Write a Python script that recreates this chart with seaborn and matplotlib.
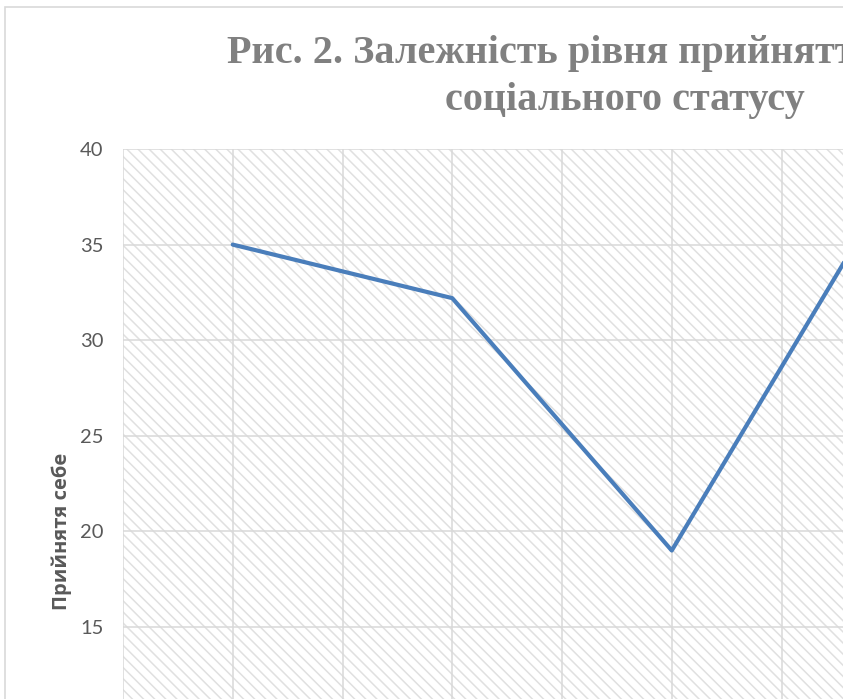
import numpy as np
import pandas as pd
import seaborn as sns
import matplotlib.pyplot as plt
from matplotlib.patches import Rectangle

# data (only the part of the chart that is visible)
statuses = ['Статус 1', 'Статус 2', 'Статус 3', 'Статус 4']
self_acceptance = [35.0, 32.2, 19.0, 38.2]
y_ticks = [15, 20, 25, 30, 35, 40]

title = 'Рис. 2. Залежність рівня прийняття себе від\nсоціального статусу'
y_label = 'Прийнятя себе'

df = pd.DataFrame({'status': statuses, 'score': self_acceptance})

sns.set_theme(style='white')
plt.rcParams['font.family'] = ['Lato', 'DejaVu Sans']
plt.rcParams['hatch.linewidth'] = 1.1

W, H = 843, 699
fig = plt.figure(figsize=(W / 100, H / 100), dpi=100)

# plot area: left 123 px, top 149 px, ~219.5 px per category, ~19.12 px per unit (0..40)
ax_h = 40 * 19.12 / H
ax = fig.add_axes([123 / W, 1 - 149 / H - ax_h, 4 * 219.5 / W, ax_h])

# chart area frame (cut off at right and bottom like the reference)
fig.patches.append(Rectangle((5 / W, -0.5), 2, 1 - 7 / H + 0.5, transform=fig.transFigure,
                             fill=False, edgecolor='#d9d9d9', lw=1.2))

# hatched plot background
ax.add_patch(Rectangle((0, 0), 1, 1, transform=ax.transAxes, facecolor='white',
                       edgecolor='#e0e0e0', hatch='\\\\\\', lw=0, zorder=0))

sns.lineplot(data=df, x='status', y='score', color='#4a7ebb', linewidth=3, sort=False,
             ax=ax, solid_joinstyle='round', solid_capstyle='round')

ax.set_xlim(-0.5, 3.5)
ax.set_ylim(0, 40)
ax.set_yticks(y_ticks)
ax.set_xticks(range(len(statuses)))
ax.set_xticks(np.arange(-0.5, len(statuses), 1), minor=True)
ax.set_axisbelow(True)
ax.grid(which='both', axis='x', color='#d9d9d9', lw=1.1)
ax.grid(which='major', axis='y', color='#d9d9d9', lw=1.1)
for s in ax.spines.values():
    s.set_visible(False)

ax.tick_params(axis='y', length=0, pad=14, labelsize=14.5, labelcolor='#595959')
# category labels sit below the visible part of the chart
ax.tick_params(axis='x', which='both', length=0, labelbottom=False)
ax.set_xlabel('')
ax.set_ylabel(y_label, fontsize=14.5, fontweight='bold', color='#595959',
              family=['Open Sans', 'DejaVu Sans'])
ax.yaxis.set_label_coords(-0.058, 0.5)

fig.text(625 / W, 1 - 33 / H, title, ha='center', va='top', fontsize=29,
         fontweight='bold', color='#808080', family='Liberation Serif', linespacing=1.38)

fig.savefig('out.png', dpi=100)
